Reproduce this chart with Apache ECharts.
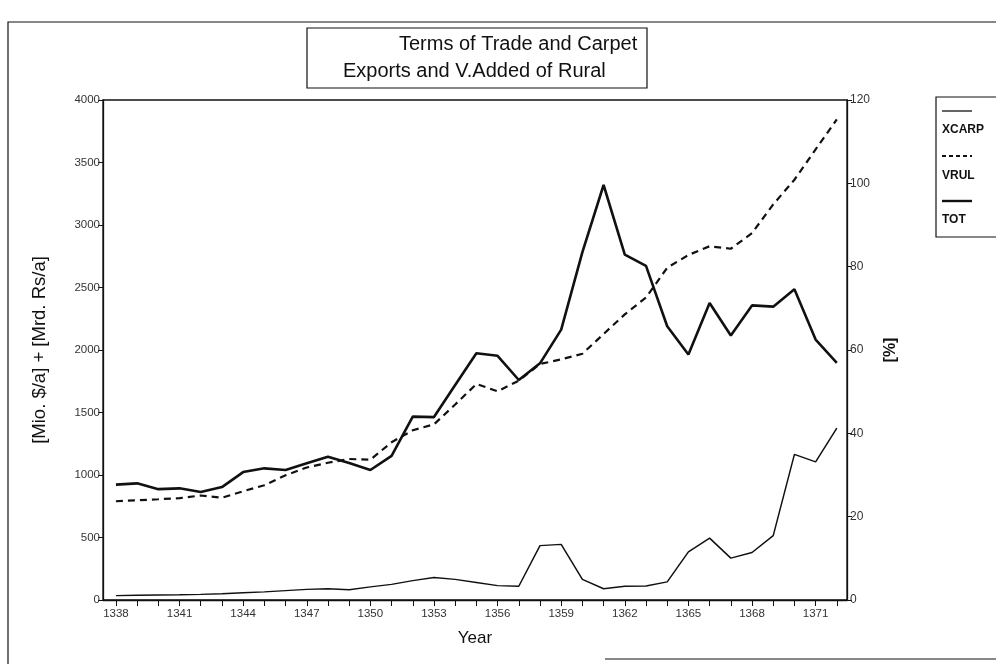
<!DOCTYPE html>
<html>
<head>
<meta charset="utf-8">
<script src="https://cdn.jsdelivr.net/npm/echarts@6/dist/echarts.min.js"></script>
<style>
html, body { margin: 0; padding: 0; background: #fff; }
#chart { width: 996px; height: 664px; }
</style>
</head>
<body>
<div id="chart"></div>
<script>
// years shown on the x axis (one tick each), labels every third year
const years = [1338, 1339, 1340, 1341, 1342, 1343, 1344, 1345, 1346, 1347, 1348, 1349,
    1350, 1351, 1352, 1353, 1354, 1355, 1356, 1357, 1358, 1359, 1360, 1361, 1362, 1363,
    1364, 1365, 1366, 1367, 1368, 1369, 1370, 1371, 1372];
const yearLabels = [1338, 1341, 1344, 1347, 1350, 1353, 1356, 1359, 1362, 1365, 1368, 1371];

// carpet exports [Mio. $/a] - left axis
const xcarp = [35, 38, 40, 42, 45, 50, 58, 65, 75, 85, 90, 82,
    105, 125, 155, 180, 165, 140, 115, 110, 435, 445, 165, 90, 110, 112,
    145, 385, 495, 335, 380, 515, 1165, 1105, 1375];

// value added of rural [Mrd. Rs/a] - left axis
const vrul = [790, 798, 806, 815, 836, 818, 870, 918, 998, 1060, 1098, 1128,
    1122, 1262, 1358, 1405, 1564, 1728, 1670, 1755, 1888, 1925, 1970, 2128, 2285, 2420,
    2658, 2760, 2830, 2810, 2935, 3165, 3362, 3605, 3845];

// terms of trade [%] - right axis
const tot = [27.7, 28.0, 26.6, 26.8, 25.9, 27.1, 30.7, 31.6, 31.2, 32.8, 34.4, 32.9,
    31.2, 34.6, 44.0, 43.9, 51.6, 59.2, 58.6, 52.8, 56.8, 64.9, 83.5, 99.6, 82.9, 80.2,
    65.7, 58.9, 71.3, 63.5, 70.7, 70.4, 74.6, 62.5, 56.9];

const leftMax = 4000, leftStep = 500;
const rightMax = 120, rightStep = 20;

const font = "'Liberation Sans', Arial, sans-serif";
const ink = "#111";

const pairs = (vals) => years.map((y, i) => [y, vals[i]]);
const plain = (v) => String(v);

const chart = echarts.init(document.getElementById("chart"));

chart.setOption({
    backgroundColor: "#fff",
    animation: false,
    grid: {
        left: 103, right: 149, top: 100, bottom: 64,
        show: true, borderColor: ink, borderWidth: 1.3, backgroundColor: "transparent",
    },
    xAxis: {
        type: "value",
        min: 1337.39,
        max: 1372.48,
        name: "Year",
        nameLocation: "middle",
        nameGap: 30,
        nameTextStyle: { fontFamily: font, fontSize: 17, color: ink },
        axisLine: { lineStyle: { color: ink, width: 1.3 } },
        axisTick: { inside: false, length: 6, customValues: years, lineStyle: { color: ink } },
        axisLabel: {
            customValues: yearLabels, formatter: plain,
            fontFamily: font, fontSize: 11.5, color: "#333", margin: 8,
        },
        splitLine: { show: false },
    },
    yAxis: [
        {
            type: "value",
            min: 0, max: leftMax, interval: leftStep,
            name: "[Mio. $/a] + [Mrd. Rs/a]",
            nameLocation: "middle",
            nameGap: 54,
            nameTextStyle: { fontFamily: font, fontSize: 18.5, color: ink },
            axisLine: { show: true, lineStyle: { color: ink, width: 1.3 } },
            axisTick: { show: true, length: 5, lineStyle: { color: ink } },
            axisLabel: { formatter: plain, fontFamily: font, fontSize: 11.5, color: "#333", margin: 3 },
            splitLine: { show: false },
        },
        {
            type: "value",
            min: 0, max: rightMax, interval: rightStep,
            position: "right",
            name: "[%]",
            nameLocation: "middle",
            nameRotate: 90,
            nameGap: 36,
            nameTextStyle: { fontFamily: font, fontSize: 16, fontWeight: "bold", color: ink },
            axisLine: { show: true, lineStyle: { color: ink, width: 1.3 } },
            axisTick: { show: true, length: 5, lineStyle: { color: ink } },
            axisLabel: { formatter: plain, fontFamily: font, fontSize: 12, color: "#333", margin: 3 },
            splitLine: { show: false },
        },
    ],
    series: [
        {
            name: "XCARP", type: "line", yAxisIndex: 0, data: pairs(xcarp),
            symbol: "none", lineStyle: { color: ink, width: 1.5 },
        },
        {
            name: "VRUL", type: "line", yAxisIndex: 0, data: pairs(vrul),
            symbol: "none", lineStyle: { color: ink, width: 2.2, type: [7, 5] },
        },
        {
            name: "TOT", type: "line", yAxisIndex: 1, data: pairs(tot),
            symbol: "none", lineStyle: { color: ink, width: 2.6 },
        },
    ],
    graphic: [
        // outer frame
        {
            type: "rect", silent: true,
            shape: { x: 8, y: 22, width: 1000, height: 700 },
            style: { fill: "none", stroke: ink, lineWidth: 1.2 },
        },
        {
            type: "line", silent: true,
            shape: { x1: 605, y1: 659, x2: 996, y2: 659 },
            style: { stroke: ink, lineWidth: 1.2 },
        },
        // title box
        {
            type: "rect", silent: true,
            shape: { x: 307, y: 28, width: 340, height: 60 },
            style: { fill: "#fff", stroke: ink, lineWidth: 1.2 },
        },
        {
            type: "text", silent: true, left: 399, top: 34,
            style: { text: "Terms of Trade and Carpet", font: "20px " + font, fill: ink },
        },
        {
            type: "text", silent: true, left: 343, top: 61,
            style: { text: "Exports and V.Added of Rural", font: "20px " + font, fill: ink },
        },
        // legend
        {
            type: "rect", silent: true,
            shape: { x: 936, y: 97, width: 80, height: 140 },
            style: { fill: "#fff", stroke: ink, lineWidth: 1.2 },
        },
        {
            type: "line", silent: true,
            shape: { x1: 942, y1: 111, x2: 972, y2: 111 },
            style: { stroke: ink, lineWidth: 1.3 },
        },
        {
            type: "text", silent: true, left: 942, top: 124,
            style: { text: "XCARP", font: "bold 12px " + font, fill: ink },
        },
        {
            type: "line", silent: true,
            shape: { x1: 942, y1: 156, x2: 972, y2: 156 },
            style: { stroke: ink, lineWidth: 2, lineDash: [4, 3] },
        },
        {
            type: "text", silent: true, left: 942, top: 170,
            style: { text: "VRUL", font: "bold 12px " + font, fill: ink },
        },
        {
            type: "line", silent: true,
            shape: { x1: 942, y1: 201, x2: 972, y2: 201 },
            style: { stroke: ink, lineWidth: 2.4 },
        },
        {
            type: "text", silent: true, left: 942, top: 214,
            style: { text: "TOT", font: "bold 12px " + font, fill: ink },
        },
    ],
});
</script>
</body>
</html>
